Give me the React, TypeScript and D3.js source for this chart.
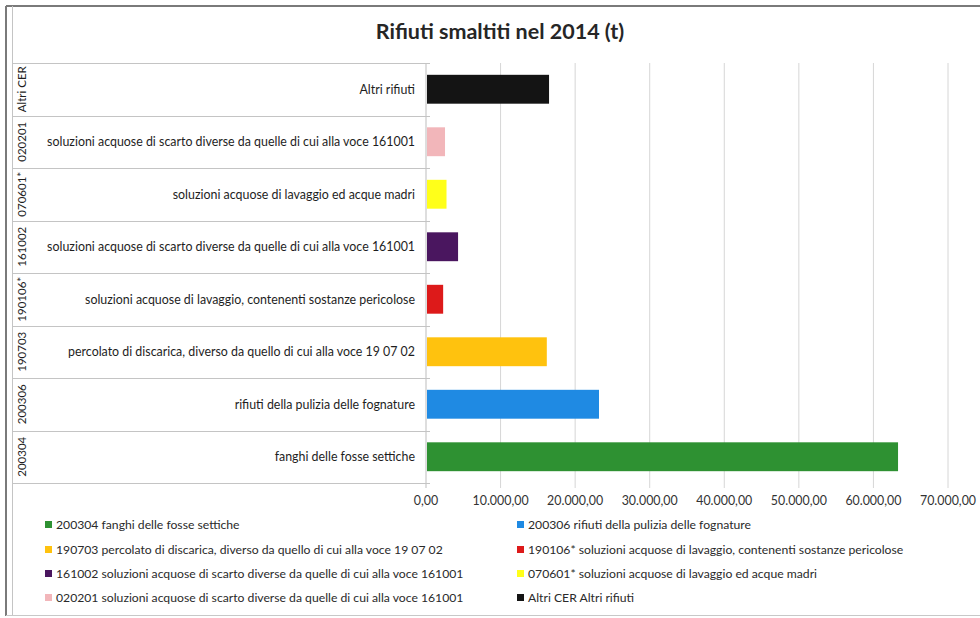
import React from "react";
import * as d3 from "d3";

const codes = ["Altri CER", "020201", "070601*", "161002", "190106*", "190703", "200306", "200304"];
const descriptions = [
  "Altri rifiuti",
  "soluzioni acquose di scarto diverse da quelle di cui alla voce 161001",
  "soluzioni acquose di lavaggio ed acque madri",
  "soluzioni acquose di scarto diverse da quelle di cui alla voce 161001",
  "soluzioni acquose di lavaggio, contenenti sostanze pericolose",
  "percolato di discarica, diverso da quello di cui alla voce 19 07 02",
  "rifiuti della pulizia delle fognature",
  "fanghi delle fosse settiche",
];
const values = [16500, 2550, 2750, 4300, 2300, 16200, 23200, 63300];
const colors = ["#141414", "#f2b6ba", "#ffff1a", "#4a165f", "#dd1a1a", "#ffc20e", "#1f8ae3", "#2e9132"];
const xTicks = [0, 10000, 20000, 30000, 40000, 50000, 60000, 70000];
const legendOrder = ["200304", "200306", "190703", "190106*", "161002", "070601*", "020201", "Altri CER"];
const title = "Rifiuti smaltiti nel 2014 (t)";

const W = 980;
const H = 618;
const FONT = "Lato, 'Open Sans', sans-serif";

export default function App() {
  const x = d3.scaleLinear().domain([0, 70000]).range([426, 948]);
  const rows = d3.scaleBand<string>().domain(codes).range([63, 483]).padding(0);
  const y = d3.scaleBand<string>().domain(codes).range([63, 483]).paddingInner(0.45).paddingOuter(0.225);
  const fmt = d3
    .formatLocale({ decimal: ",", thousands: ".", grouping: [3], currency: ["", "€"] })
    .format(",.2f");

  const legendCols = [45, 517];
  const legendRows = [525, 550, 574, 598];

  return (
    <svg
      width={W}
      height={H}
      style={{ position: "absolute", left: 0, top: 0, background: "#fff" }}
      fontFamily={FONT}
    >
      <rect x={0} y={0} width={W} height={H} fill="#fff" />
      {/* frame */}
      <line x1={6} x2={W} y1={6} y2={6} stroke="#7a7a7a" strokeWidth={2} />
      <line x1={6} x2={6} y1={6} y2={616} stroke="#7a7a7a" strokeWidth={2} />
      <line x1={12.5} x2={12.5} y1={6} y2={616} stroke="#c4c4c4" strokeWidth={1} />
      <line x1={6} x2={W} y1={615.5} y2={615.5} stroke="#c8c8c8" strokeWidth={1} />

      {/* title */}
      <text x={500} y={39} textAnchor="middle" fontSize={21.5} fontWeight={700} fill="#262626">
        {title}
      </text>

      {/* gridlines */}
      {xTicks.map((t) => (
        <line
          key={"g" + t}
          x1={x(t)}
          x2={x(t)}
          y1={63}
          y2={488}
          stroke={t === 0 ? "#bdbdbd" : "#d6d6d6"}
          strokeWidth={1}
        />
      ))}

      {/* category label separators */}
      {codes.map((c) => (
        <line
          key={"s" + c}
          x1={12.5}
          x2={430}
          y1={Math.round(rows(c)!) + 0.5}
          y2={Math.round(rows(c)!) + 0.5}
          stroke="#c4c4c4"
          strokeWidth={1.2}
        />
      ))}
      <line x1={12.5} x2={430} y1={483.5} y2={483.5} stroke="#c4c4c4" strokeWidth={1.2} />

      {/* bars */}
      {codes.map((c, i) => (
        <rect
          key={"b" + c}
          x={x(0) + 1}
          y={y(c)!}
          width={x(values[i]) - x(0) - 1}
          height={y.bandwidth()}
          fill={colors[i]}
        />
      ))}

      {/* category labels */}
      {codes.map((c, i) => {
        const cy = rows(c)! + rows.bandwidth() / 2;
        return (
          <g key={"l" + c}>
            <text
              transform={`translate(26,${cy}) rotate(-90)`}
              textAnchor="middle"
              fontSize={11.5}
              fill="#1e1e1e"
            >
              {c}
            </text>
            <text x={415} y={cy + 4.5} textAnchor="end" fontSize={12.4} fill="#1e1e1e">
              {descriptions[i]}
            </text>
          </g>
        );
      })}

      {/* x tick labels */}
      {xTicks.map((t) => (
        <text key={"t" + t} x={x(t)} y={505} textAnchor="middle" fontSize={12.4} fill="#333">
          {fmt(t)}
        </text>
      ))}

      {/* legend */}
      {legendOrder.map((code, k) => {
        const i = codes.indexOf(code);
        const lx = legendCols[k % 2];
        const ly = legendRows[Math.floor(k / 2)];
        return (
          <g key={"lg" + code}>
            <rect x={lx} y={ly - 4} width={7} height={7} fill={colors[i]} />
            <text x={lx + 11} y={ly + 4} fontSize={12.2} fill="#2a2a2a">
              {code + " " + descriptions[i]}
            </text>
          </g>
        );
      })}
    </svg>
  );
}
